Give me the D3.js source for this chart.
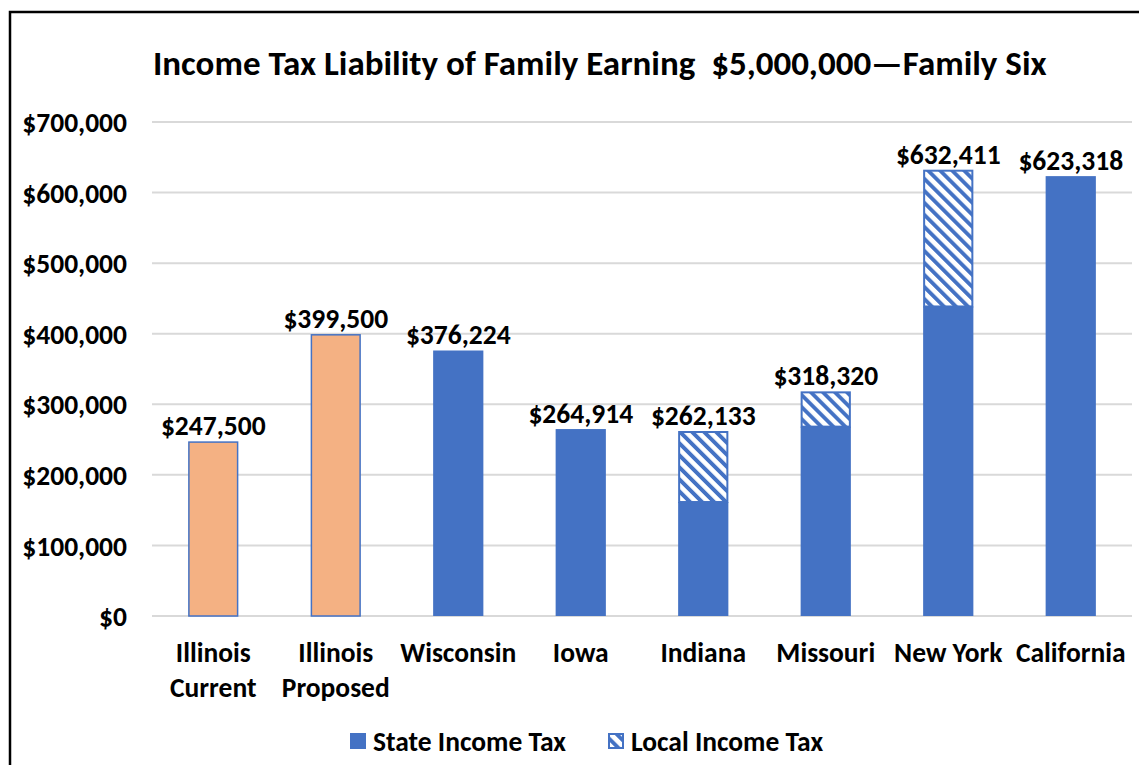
<!DOCTYPE html>
<html>
<head>
<meta charset="utf-8">
<script src="https://cdn.jsdelivr.net/npm/d3@7/dist/d3.min.js"></script>
<style>
	body { margin: 0; background: #fff; }
	text { font-family: Carlito, Calibri, Lato, "Open Sans", sans-serif; font-weight: bold; fill: #000; }
</style>
</head>
<body>
<div id="chart"></div>
<script>

// data
let states		= ["Illinois\nCurrent", "Illinois\nProposed", "Wisconsin", "Iowa", "Indiana", "Missouri", "New York", "California"],
	stateTax	= [247500, 399500, 376224, 264914, 161500, 268320, 438611, 623318],
	localTax	= [0, 0, 0, 0, 100633, 50000, 193800, 0],
	isIllinois	= [true, true, false, false, false, false, false, false],
	yTicks		= [0, 100000, 200000, 300000, 400000, 500000, 600000, 700000];

let chartTitle	= "Income Tax Liability of Family Earning  $5,000,000\u2014Family Six",
	legendNames	= ["State Income Tax", "Local Income Tax"];

let blue	= "#4472c4",
	orange	= "#f4b183",
	grid	= "#d9d9d9";

let width	= 1139,
	height	= 765,
	plot	= { left: 152, right: 1132, top: 122, bottom: 616 },
	fontSz	= "27.5px";

let svg = d3.select("#chart")
	.append("svg")
		.attr("width", width)
		.attr("height", height);

// hatch pattern for the local tax part
let defs = svg.append("defs");

let pattern = defs.append("pattern")
	.attr("id", "hatch")
	.attr("patternUnits", "userSpaceOnUse")
	.attr("width", 8.5)
	.attr("height", 8.5)
	.attr("patternTransform", "rotate(45)");

pattern.append("rect")
	.attr("width", 8.5)
	.attr("height", 8.5)
	.attr("fill", blue);

pattern.append("rect")
	.attr("width", 8.5)
	.attr("height", 4.6)
	.attr("fill", "#fff");

// outer frame (only top and left visible)
svg.append("path")
	.attr("d", "M10,1000 L10,12 L1200,12")
	.attr("fill", "none")
	.attr("stroke", "#000")
	.attr("stroke-width", 2.5);

// title
svg.append("text")
	.attr("x", 153)
	.attr("y", 75)
	.style("font-size", "35px")
	.style("white-space", "pre")
	.text(chartTitle);

let xScale = d3.scaleBand()
	.domain(states)
	.range([plot.left, plot.right]);

let yScale = d3.scaleLinear()
	.domain([0, 700000])
	.range([plot.bottom, plot.top]);

let barWidth = xScale.bandwidth() * 0.41;

// gridlines
svg.append("g")
	.selectAll("line")
	.data(yTicks)
		.enter()
			.append("line")
				.attr("x1", plot.left)
				.attr("x2", plot.right)
				.attr("y1", function (d) { return yScale(d); })
				.attr("y2", function (d) { return yScale(d); })
				.attr("stroke", grid)
				.attr("stroke-width", 2);

// y axis labels
let yAxis = d3.axisLeft(yScale)
	.tickValues(yTicks)
	.tickFormat(function (d) { return "$" + d3.format(",")(d); })
	.tickSize(0)
	.tickPadding(25);

let yAxisG = svg.append("g")
	.attr("transform", "translate(" + plot.left + ",0)")
	.call(yAxis);

yAxisG.select(".domain").remove();
yAxisG.selectAll("text")
	.style("font-size", fontSz)
	.style("font-family", null)
	.attr("dy", "0.35em");

// bars
let barData = states.map(function (s, i) {
	return { name: s, st: stateTax[i], loc: localTax[i], il: isIllinois[i] };
});

let barG = svg.append("g")
	.selectAll("g")
	.data(barData)
		.enter()
			.append("g")
				.attr("transform", function (d) {
					return "translate(" + (xScale(d.name) + xScale.bandwidth() / 2 - barWidth / 2) + ",0)";
				});

// state part
barG.append("rect")
	.attr("x", function (d) { return d.il ? 0.75 : 0; })
	.attr("y", function (d) { return yScale(d.st) + (d.il ? 0.75 : 0); })
	.attr("width", function (d) { return d.il ? barWidth - 1.5 : barWidth; })
	.attr("height", function (d) { return yScale(0) - yScale(d.st) - (d.il ? 0.75 : 0); })
	.attr("fill", function (d) { return d.il ? orange : blue; })
	.attr("stroke", function (d) { return d.il ? blue : "none"; })
	.attr("stroke-width", 1.5);

// local part
barG.filter(function (d) { return d.loc > 0; })
	.append("rect")
		.attr("x", 1)
		.attr("y", function (d) { return yScale(d.st + d.loc) + 1; })
		.attr("width", barWidth - 2)
		.attr("height", function (d) { return yScale(d.st) - yScale(d.st + d.loc) - 1; })
		.attr("fill", "url(#hatch)")
		.attr("stroke", blue)
		.attr("stroke-width", 2);

// value labels
barG.append("text")
	.attr("x", barWidth / 2)
	.attr("y", function (d) { return yScale(d.st + d.loc) - 6; })
	.attr("text-anchor", "middle")
	.style("font-size", fontSz)
	.text(function (d) { return "$" + d3.format(",")(d.st + d.loc); });

// category labels
let catLabels = svg.append("g")
	.selectAll("text")
	.data(states)
		.enter()
			.append("text")
				.attr("x", function (d) { return xScale(d) + xScale.bandwidth() / 2; })
				.attr("y", 662)
				.attr("text-anchor", "middle")
				.style("font-size", fontSz);

catLabels.selectAll("tspan")
	.data(function (d) { return d.split("\n"); })
		.enter()
			.append("tspan")
				.attr("x", function () { return d3.select(this.parentNode).attr("x"); })
				.attr("dy", function (d, i) { return i ? 35 : 0; })
				.text(function (d) { return d; });

// legend
let legend = svg.append("g");

let legendX = [350, 608];

legend.selectAll("rect")
	.data(legendNames)
		.enter()
			.append("rect")
				.attr("x", function (d, i) { return legendX[i] + (i ? 1 : 0); })
				.attr("y", function (d, i) { return 733 + (i ? 1 : 0); })
				.attr("width", function (d, i) { return i ? 14 : 16; })
				.attr("height", function (d, i) { return i ? 14 : 16; })
				.attr("fill", function (d, i) { return i ? "url(#hatch)" : blue; })
				.attr("stroke", function (d, i) { return i ? blue : "none"; })
				.attr("stroke-width", 2);

legend.selectAll("text")
	.data(legendNames)
		.enter()
			.append("text")
				.attr("x", function (d, i) { return legendX[i] + 23; })
				.attr("y", 751)
				.style("font-size", fontSz)
				.text(function (d) { return d; });

</script>
</body>
</html>
